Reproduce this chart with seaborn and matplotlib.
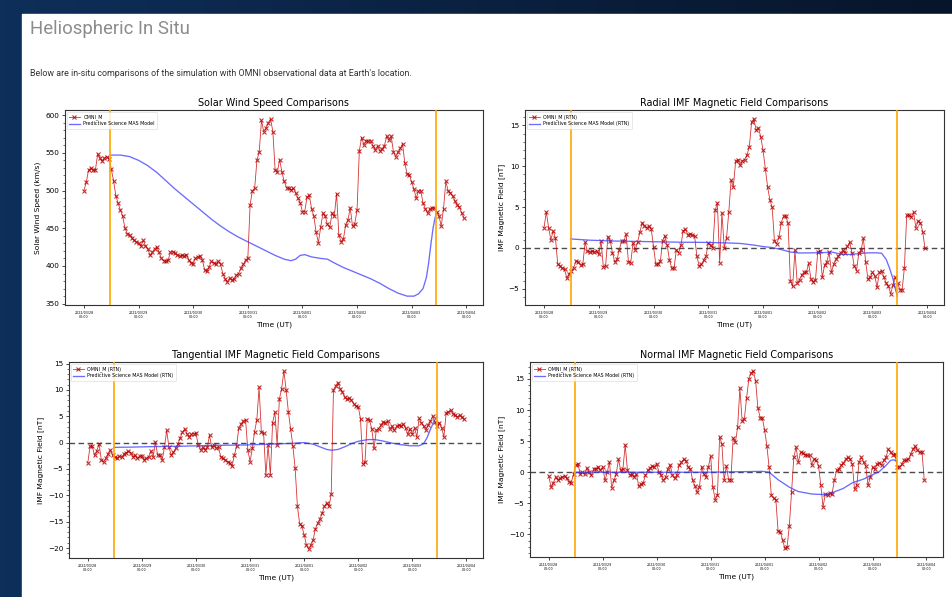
import numpy as np
import pandas as pd
import matplotlib
matplotlib.use("Agg")
import matplotlib.pyplot as plt
import matplotlib.dates as mdates
from matplotlib.ticker import AutoMinorLocator
from matplotlib.patches import Rectangle
from matplotlib.colors import LinearSegmentedColormap
import seaborn as sns

# ---------------- data ----------------
START = "2022-03-28 00:00"
N_HOURS = 168
window_start_hour = 11.6     # orange marker lines (hours after START)
window_end_hour = 154.9

speed_0328 = [500, 511, 527, 530, 527, 527, 548, 543, 539, 543, 545, 542, 528, 513, 493, 483, 474, 466, 450, 443, 441, 437, 434, 432]
speed_0329 = [430, 426, 434, 427, 423, 414, 418, 423, 425, 418, 410, 407, 406, 408, 418, 419, 417, 415, 413, 414, 413, 415, 408, 404]
speed_0330 = [403, 410, 412, 413, 408, 395, 393, 399, 406, 404, 402, 406, 402, 390, 383, 379, 384, 381, 383, 388, 390, 397, 402, 408]
speed_0331 = [410, 481, 500, 503, 540, 551, 593, 578, 583, 590, 595, 578, 527, 525, 541, 524, 512, 504, 503, 501, 503, 497, 490, 484]
speed_0401 = [472, 472, 491, 494, 476, 466, 445, 431, 451, 470, 466, 455, 451, 470, 466, 496, 441, 432, 436, 454, 461, 477, 453, 456]
speed_0402 = [474, 553, 570, 561, 566, 565, 566, 559, 554, 559, 553, 555, 559, 572, 567, 572, 551, 545, 551, 556, 562, 536, 522, 521]
speed_0403 = [511, 502, 490, 499, 500, 483, 476, 470, 476, 477, 477, 472, 466, 453, 476, 512, 500, 497, 493, 486, 481, 478, 470, 464]

br_0328 = [2.5, 4.4, 2.5, 1.0, 2.1, 1.2, -2.0, -2.2, -2.5, -2.6, -3.7, -3.2, -2.8, -2.4, -1.6, -1.7, -2.1, -2.0, 0.7, -0.4, -0.5, -0.4, -0.5, -0.4]
br_0329 = [-0.8, 0.8, -2.3, -2.2, 1.4, 0.9, -0.6, -1.7, -1.4, -0.2, 0.8, 0.8, 1.7, -1.7, -1.8, 0.6, -0.2, 0.7, 1.9, 3.1, 2.7, 2.5, 2.7, 2.3]
br_0330 = [0.1, -2.0, -2.0, -1.6, 0.9, 1.5, 0.3, -1.5, -2.5, -2.5, -0.2, -0.6, 0.3, 2.1, 2.3, 1.6, 1.7, 1.6, 1.5, -1.0, -2.2, -2.0, -1.5, -1.0]
br_0331 = [0.6, 0.3, 0.0, 4.6, 5.5, -1.8, 4.3, 0.0, 1.2, 4.4, 8.3, 7.5, 10.6, 10.8, 10.1, 10.7, 10.8, 11.4, 12.4, 15.4, 15.8, 14.4, 14.7, 13.6]
br_0401 = [12.0, 9.7, 7.5, 5.9, 5.0, 0.9, 0.5, 1.3, 3.1, 3.9, 3.9, 3.0, -4.1, -4.7, -0.3, -4.3, -3.9, -3.3, -3.0, -3.0, -1.9, -3.8, -4.2, -3.9]
br_0402 = [-0.5, -0.4, -3.6, -2.1, -1.7, -0.5, -3.0, -2.0, -1.4, -1.0, -0.6, -0.3, -0.6, 0.2, 0.7, -0.6, -2.2, -2.8, -0.6, -0.3, 1.2, -1.7, -3.8, -3.6]
br_0403 = [-3.0, -3.4, -4.8, -3.0, -2.8, -3.6, -4.3, -4.7, -5.6, -4.5, -3.6, -4.3, -5.1, -5.1, -2.4, 4.0, 4.0, 3.8, 4.4, 2.5, 3.3, 3.1, 2.0, 0.0]

bt_0328 = [-3.8, -0.7, -0.7, -2.4, -1.5, -0.3, -3.3, -3.6, -3.0, -2.1, -1.4, -2.4, -2.8, -3.0, -2.6, -2.8, -2.2, -1.9, -1.6, -1.9, -2.7, -2.4, -3.0, -2.6]
bt_0329 = [-2.5, -3.3, -3.0, -2.8, -1.6, -2.7, 0.1, -2.4, -2.4, -3.3, -0.9, 2.3, -0.9, -2.4, -1.8, -1.1, -0.2, 0.9, 2.0, 2.6, 1.7, 1.1, 1.6, 1.7]
bt_0330 = [1.8, -0.5, -1.4, -0.9, -1.4, -0.9, 1.4, -0.9, -0.5, -1.1, -0.9, -2.7, -3.0, -3.3, -3.6, -3.9, -4.5, -2.4, -0.7, 2.8, 3.5, 4.1, 4.3, -1.4]
bt_0331 = [-3.6, -1.1, 2.1, 4.3, 10.5, 2.0, 1.8, -6.2, -0.5, -6.2, 3.8, 5.8, -0.5, 8.3, 10.2, 13.6, 10.0, 5.8, 2.6, -0.7, -4.9, -12.1, -15.4, -15.9]
bt_0401 = [-17.5, -19.4, -20.2, -19.4, -18.4, -16.3, -15.3, -14.5, -13.4, -12.1, -11.4, -12.1, -9.8, 10.0, 10.8, 11.4, 10.2, 9.6, 8.6, 8.2, 8.4, 8.0, 7.4, 6.9]
bt_0402 = [6.8, 4.5, -4.0, -3.7, 4.5, 4.3, 2.6, -1.1, 2.3, 2.6, 3.3, 3.9, 3.8, 4.1, 2.6, 3.1, 2.3, 3.1, 3.3, 3.1, 3.5, 2.7, 1.6, 2.6]
bt_0403 = [1.6, 2.8, 1.1, 4.6, 3.8, 3.1, 2.4, 3.3, 4.1, 5.0, 3.9, 3.1, 3.8, 2.8, 1.1, 5.6, 5.8, 6.2, 5.5, 5.2, 4.9, 5.2, 4.8, 4.4]

bn_0328 = [-0.6, -2.4, -1.7, -0.8, -1.2, -1.0, -0.8, -0.6, -1.0, -1.5, -1.7, -0.3, 1.2, 1.4, -0.3, 0.0, -0.3, 0.7, 0.0, -0.5, 0.6, 0.5, 0.9, 0.3]
bn_0329 = [0.9, -1.3, 0.0, 1.6, -2.5, -1.3, -0.3, 2.1, 0.3, 0.6, 4.4, 0.3, -0.4, -0.3, -0.8, -0.3, -2.2, -1.9, -1.7, -0.5, 0.3, 0.7, 1.0, 0.9]
bn_0330 = [1.4, 0.0, -0.5, -1.3, -0.8, 0.6, 1.2, -0.5, -1.0, -0.4, 1.1, 1.6, 2.1, 1.8, 0.9, 0.5, -1.3, -2.2, -3.2, -2.4, 0.9, -0.3, -0.8, 0.9]
bn_0331 = [2.6, -2.4, -4.4, -3.7, 5.7, 4.5, -1.3, 1.0, -1.2, -1.2, 5.5, 4.8, 7.2, 13.5, 8.3, 8.6, 12.0, 15.0, 16.0, 16.3, 14.7, 10.4, 8.8, 8.7]
bn_0401 = [6.8, 4.3, 0.8, -3.7, -4.2, -4.4, -9.5, -9.6, -10.9, -12.2, -12.0, -8.6, -3.1, 2.4, 4.0, 1.6, 3.2, 3.1, 2.8, 2.7, 2.7, 1.2, 2.1, 1.9]
bn_0402 = [1.0, -2.1, -5.6, -3.5, -3.7, -3.3, -3.5, -1.3, 0.3, 0.5, 1.1, 1.5, 2.1, 2.4, 2.1, 1.3, -2.7, -2.1, 1.6, 2.4, 1.6, 1.0, -2.1, -0.8]
bn_0403 = [0.8, 0.5, 1.3, 1.5, 1.2, 1.9, 2.4, 3.7, 3.2, 2.8, 2.9, 0.8, 0.8, 1.3, 1.9, 1.9, 2.1, 2.9, 3.7, 4.2, 3.5, 3.2, 3.3, -1.2]

# model curves: (hours after START, value)
model_speed_hours = [11.6, 16, 20, 24, 28, 32, 36, 40, 44, 48, 52, 56, 60, 64, 68, 72, 76, 80, 84, 88, 91, 93, 95, 97,
                     100, 104, 107, 110, 114, 118, 122, 126, 130, 134, 138, 142, 145, 147, 149, 150.5, 151.5, 152.5, 153.5, 154.9]
model_speed_vals = [547, 547, 545, 540, 533, 524, 513, 502, 492, 482, 472, 462, 453, 445, 438, 432, 426, 420, 414, 409, 407, 409, 414, 415,
                    412, 410, 409, 404, 398, 393, 388, 383, 377, 370, 364, 360, 360, 363, 370, 385, 405, 430, 452, 472]

model_br_hours = [11.6, 20, 30, 40, 50, 60, 70, 80, 86, 92, 96, 100, 104, 108, 112, 118, 124, 126, 130, 134, 138, 142,
                  146, 148, 150, 151.5, 153, 154, 154.9]
model_br_vals = [1.1, 0.95, 0.85, 0.8, 0.75, 0.7, 0.68, 0.62, 0.55, 0.35, 0.17, 0.05, -0.2, -0.5, -0.62, -0.6, -0.55, -0.5,
                 -0.75, -0.8, -0.7, -0.6, -0.6, -0.65, -1.4, -2.5, -3.8, -5.0, -5.9]

model_bt_hours = [11.6, 20, 30, 40, 50, 60, 70, 80, 90, 96, 100, 103, 106, 108, 111, 114, 117, 120, 124, 127, 131, 135,
                  139, 143, 147, 149, 150.5, 152, 153.5, 154.9]
model_bt_vals = [-0.9, -0.85, -0.75, -0.7, -0.6, -0.5, -0.45, -0.3, -0.15, 0.0, -0.3, -0.8, -1.3, -1.45, -1.3, -0.8, -0.2,
                 0.25, 0.55, 0.6, 0.3, -0.1, -0.4, -0.6, -0.6, -0.2, 0.9, 2.5, 3.9, 5.0]

model_bn_hours = [11.6, 30, 50, 70, 88, 95, 98, 102, 107, 111, 117, 123, 126, 131, 135, 140, 144, 147, 150, 152, 153.5, 154.9]
model_bn_vals = [0.0, 0.0, 0.0, 0.0, 0.1, 0.15, 0.0, -1.2, -2.4, -3.1, -3.5, -3.6, -3.3, -2.6, -1.7, -1.1, -0.4, 0.1, 1.1, 1.9, 2.0, 1.7]

page_title = "Heliospheric In Situ"
page_subtitle = "Below are in-situ comparisons of the simulation with OMNI observational data at Earth's location."

# ---------------- figure ----------------
base = pd.Timestamp(START)
times = pd.date_range(START, periods=N_HOURS, freq="h")

fig = plt.figure(figsize=(9.53, 5.97), dpi=100)

# page background (dark gradient) and white content panel
bg = fig.add_axes([0, 0, 1, 1], zorder=-10)
grad = np.linspace(0, 1, 256)[None, :]
cmap_bg = LinearSegmentedColormap.from_list("bg", ["#0e2f5a", "#0a2140", "#07152a"])
bg.imshow(grad, aspect="auto", cmap=cmap_bg, extent=[0, 1, 0, 1])
bg.set_xlim(0, 1); bg.set_ylim(0, 1)
bg.add_patch(Rectangle((22 / 953, 0), 1 - 22 / 953, 1 - 14 / 597, color="white"))
bg.axis("off")

fig.text(30 / 953, 1 - 29 / 597, page_title, fontsize=13.4, color="#8c8c8c",
         family=["Roboto", "DejaVu Sans"], fontweight="normal", va="center", ha="left")
fig.text(30 / 953, 1 - 73 / 597, page_subtitle, fontsize=6.4, color="#333333",
         family=["Roboto", "DejaVu Sans"], va="center", ha="left")

obs_color = "#cc0000"
mod_color = "#3a3aff"


def draw_panel(rect, obs, mh, mv, title, ylabel, obs_label, mod_label, zero_line):
    ax = fig.add_axes(rect)
    df_obs = pd.DataFrame({"time": times, "value": obs})
    sns.lineplot(data=df_obs, x="time", y="value", ax=ax, color=obs_color, marker="x",
                 markersize=3.4, markeredgecolor="#b40000", markeredgewidth=0.8,
                 linewidth=0.6, alpha=0.8, label=obs_label, estimator=None)
    df_mod = pd.DataFrame({"time": base + pd.to_timedelta(mh, unit="h"), "value": mv})
    sns.lineplot(data=df_mod, x="time", y="value", ax=ax, color=mod_color, linewidth=0.95,
                 alpha=0.75, label=mod_label, estimator=None)
    if zero_line:
        ax.axhline(0, color="black", ls="--", lw=1.0, alpha=0.7, dashes=(4, 2.5), zorder=1)
    for h in (window_start_hour, window_end_hour):
        ax.axvline(base + pd.Timedelta(hours=h), color="orange", lw=1.2, zorder=3)

    ax.set_title(title, fontsize=6.9, pad=3)
    ax.set_xlabel("Time (UT)", fontsize=5.3, labelpad=2)
    ax.set_ylabel(ylabel, fontsize=5.4, labelpad=3)
    ax.xaxis.set_major_locator(mdates.DayLocator())
    ax.xaxis.set_major_formatter(mdates.DateFormatter("%Y/%m/%d\n%H:%M"))
    ax.yaxis.set_minor_locator(AutoMinorLocator())
    ax.tick_params(axis="x", labelsize=2.3, length=2.5, width=0.5, pad=1.5)
    ax.tick_params(axis="y", which="major", labelsize=5.2, length=2.5, width=0.5, pad=1.5)
    ax.tick_params(axis="y", which="minor", length=1.4, width=0.4)
    for sp in ax.spines.values():
        sp.set_linewidth(0.8)
        sp.set_color("#333333")
    leg = ax.legend(loc="upper left", fontsize=3.4, frameon=True, borderpad=0.5,
                    handlelength=2.2, labelspacing=0.3, borderaxespad=0.4)
    leg.get_frame().set_linewidth(0.4)
    return ax


draw_panel([65 / 953, 1 - 305 / 597, 418 / 953, 195 / 597],
           speed_0328 + speed_0329 + speed_0330 + speed_0331 + speed_0401 + speed_0402 + speed_0403,
           model_speed_hours, model_speed_vals,
           "Solar Wind Speed Comparisons", "Solar Wind Speed (km/s)",
           "OMNI_M", "Predictive Science MAS Model", False)

draw_panel([525 / 953, 1 - 305 / 597, 419 / 953, 195 / 597],
           br_0328 + br_0329 + br_0330 + br_0331 + br_0401 + br_0402 + br_0403,
           model_br_hours, model_br_vals,
           "Radial IMF Magnetic Field Comparisons", "IMF Magnetic Field [nT]",
           "OMNI_M (RTN)", "Predictive Science MAS Model (RTN)", True)

draw_panel([69 / 953, 1 - 558 / 597, 414 / 953, 196 / 597],
           bt_0328 + bt_0329 + bt_0330 + bt_0331 + bt_0401 + bt_0402 + bt_0403,
           model_bt_hours, model_bt_vals,
           "Tangential IMF Magnetic Field Comparisons", "IMF Magnetic Field [nT]",
           "OMNI_M (RTN)", "Predictive Science MAS Model (RTN)", True)

draw_panel([530 / 953, 1 - 557 / 597, 413 / 953, 195 / 597],
           bn_0328 + bn_0329 + bn_0330 + bn_0331 + bn_0401 + bn_0402 + bn_0403,
           model_bn_hours, model_bn_vals,
           "Normal IMF Magnetic Field Comparisons", "IMF Magnetic Field [nT]",
           "OMNI_M (RTN)", "Predictive Science MAS Model (RTN)", True)

fig.savefig("out.png", dpi=100)
